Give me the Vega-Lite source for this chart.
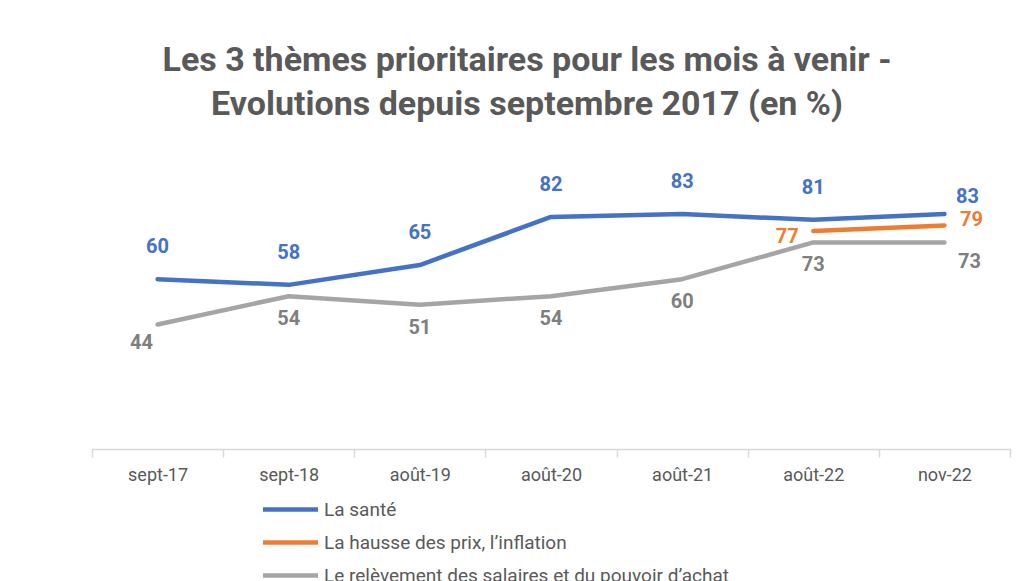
{
  "$schema": "https://vega.github.io/schema/vega-lite/v6.json",
  "width": 918,
  "height": 283,
  "autosize": {"type": "none"},
  "padding": {"left": 92, "top": 166, "right": 19, "bottom": 132},
  "background": "white",
  "title": {
    "text": ["Les 3 thèmes prioritaires pour les mois à venir -", "Evolutions depuis septembre 2017 (en %)"],
    "font": "Roboto",
    "fontSize": 34,
    "fontWeight": "bold",
    "color": "#595959",
    "lineHeight": 44,
    "anchor": "middle",
    "dx": -24,
    "offset": 44
  },
  "config": {
    "view": {"stroke": null},
    "font": "Roboto",
    "axis": {"grid": false},
    "legend": {
      "orient": "none",
      "legendX": 176,
      "legendY": 321,
      "direction": "vertical",
      "symbolType": "M-1.375,0H1.375",
      "symbolSize": 1600,
      "symbolStrokeWidth": 4.5,
      "labelFontSize": 19,
      "labelFontWeight": "normal",
      "labelColor": "#595959",
      "labelFont": "Roboto",
      "labelLimit": 600,
      "rowPadding": 0,
      "labelOffset": 11,
      "title": null
    }
  },
  "data": {
    "values": [
      {"month": "sept-17", "series": "La santé", "value": 60},
      {"month": "sept-18", "series": "La santé", "value": 58},
      {"month": "août-19", "series": "La santé", "value": 65},
      {"month": "août-20", "series": "La santé", "value": 82},
      {"month": "août-21", "series": "La santé", "value": 83},
      {"month": "août-22", "series": "La santé", "value": 81},
      {"month": "nov-22", "series": "La santé", "value": 83},
      {"month": "août-22", "series": "La hausse des prix, l’inflation", "value": 77},
      {"month": "nov-22", "series": "La hausse des prix, l’inflation", "value": 79},
      {"month": "sept-17", "series": "Le relèvement des salaires et du pouvoir d’achat", "value": 44},
      {"month": "sept-18", "series": "Le relèvement des salaires et du pouvoir d’achat", "value": 54},
      {"month": "août-19", "series": "Le relèvement des salaires et du pouvoir d’achat", "value": 51},
      {"month": "août-20", "series": "Le relèvement des salaires et du pouvoir d’achat", "value": 54},
      {"month": "août-21", "series": "Le relèvement des salaires et du pouvoir d’achat", "value": 60},
      {"month": "août-22", "series": "Le relèvement des salaires et du pouvoir d’achat", "value": 73},
      {"month": "nov-22", "series": "Le relèvement des salaires et du pouvoir d’achat", "value": 73}
    ]
  },
  "encoding": {
    "x": {
      "field": "month",
      "type": "nominal",
      "sort": ["sept-17", "sept-18", "août-19", "août-20", "août-21", "août-22", "nov-22"],
      "bandPosition": 0.5,
      "scale": {"type": "band", "paddingInner": 0, "paddingOuter": 0},
      "axis": {
        "title": null,
        "labelAngle": 0,
        "domainColor": "#d9d9d9",
        "domainWidth": 1.5,
        "tickColor": "#d9d9d9",
        "tickWidth": 1.5,
        "tickBand": "extent",
        "tickSize": 8,
        "labelColor": "#595959",
        "labelFontSize": 18,
        "labelFontWeight": "normal",
        "labelFont": "Roboto",
        "labelPadding": 9
      }
    },
    "y": {
      "field": "value",
      "type": "quantitative",
      "scale": {"domain": [0, 100]},
      "axis": null
    }
  },
  "layer": [
    {
      "mark": {"type": "line", "strokeWidth": 4.5, "strokeCap": "round", "strokeJoin": "round"},
      "encoding": {
        "color": {
          "field": "series",
          "type": "nominal",
          "scale": {
            "domain": ["La santé", "La hausse des prix, l’inflation", "Le relèvement des salaires et du pouvoir d’achat"],
            "range": ["#4472C4", "#ED7D31", "#A5A5A5"]
          }
        }
      }
    },
    {
      "transform": [{"filter": "datum.series === 'La santé' && datum.month !== 'nov-22'"}],
      "mark": {"type": "text", "fontSize": 20, "fontWeight": "bold", "color": "#4472C4", "dy": -32, "baseline": "middle"},
      "encoding": {"text": {"field": "value", "type": "quantitative"}}
    },
    {
      "transform": [{"filter": "datum.series === 'La santé' && datum.month === 'nov-22'"}],
      "mark": {"type": "text", "fontSize": 20, "fontWeight": "bold", "color": "#4472C4", "dx": 23, "dy": -17, "baseline": "middle"},
      "encoding": {"text": {"field": "value", "type": "quantitative"}}
    },
    {
      "transform": [{"filter": "datum.series === 'La hausse des prix, l’inflation' && datum.month === 'août-22'"}],
      "mark": {"type": "text", "fontSize": 20, "fontWeight": "bold", "color": "#ED7D31", "dx": -26, "dy": 6, "baseline": "middle"},
      "encoding": {"text": {"field": "value", "type": "quantitative"}}
    },
    {
      "transform": [{"filter": "datum.series === 'La hausse des prix, l’inflation' && datum.month === 'nov-22'"}],
      "mark": {"type": "text", "fontSize": 20, "fontWeight": "bold", "color": "#ED7D31", "dx": 27, "dy": -5, "baseline": "middle"},
      "encoding": {"text": {"field": "value", "type": "quantitative"}}
    },
    {
      "transform": [{"filter": "datum.series === 'Le relèvement des salaires et du pouvoir d’achat' && datum.month !== 'nov-22' && datum.month !== 'sept-17'"}],
      "mark": {"type": "text", "fontSize": 20, "fontWeight": "bold", "color": "#7F7F7F", "dy": 23, "baseline": "middle"},
      "encoding": {"text": {"field": "value", "type": "quantitative"}}
    },
    {
      "transform": [{"filter": "datum.series === 'Le relèvement des salaires et du pouvoir d’achat' && datum.month === 'sept-17'"}],
      "mark": {"type": "text", "fontSize": 20, "fontWeight": "bold", "color": "#7F7F7F", "dx": -16, "dy": 19, "baseline": "middle"},
      "encoding": {"text": {"field": "value", "type": "quantitative"}}
    },
    {
      "transform": [{"filter": "datum.series === 'Le relèvement des salaires et du pouvoir d’achat' && datum.month === 'nov-22'"}],
      "mark": {"type": "text", "fontSize": 20, "fontWeight": "bold", "color": "#7F7F7F", "dx": 25, "dy": 20, "baseline": "middle"},
      "encoding": {"text": {"field": "value", "type": "quantitative"}}
    }
  ]
}
